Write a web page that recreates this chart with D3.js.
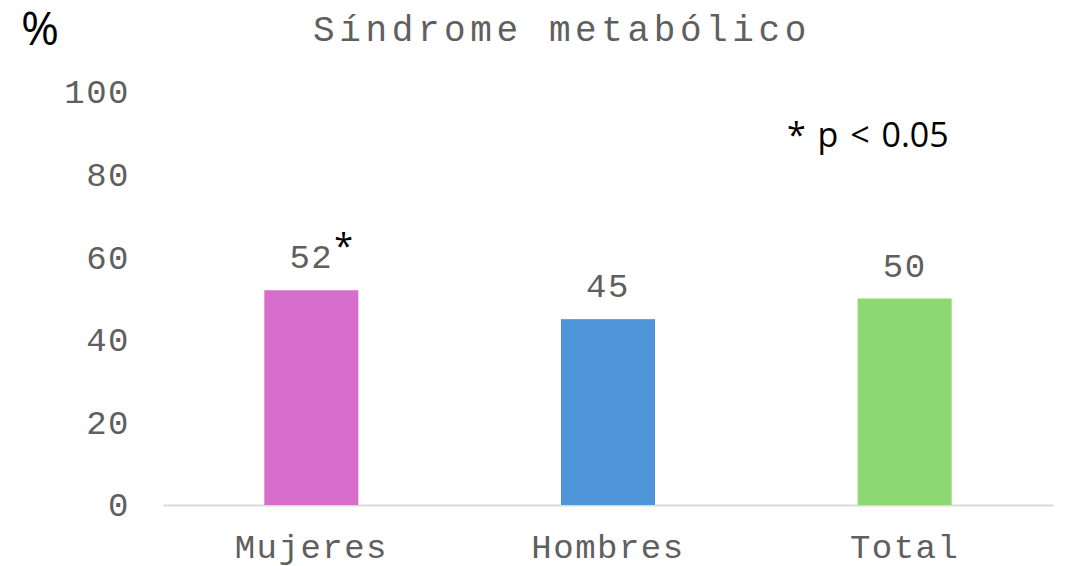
<!DOCTYPE html>
<html>
<head>
<meta charset="utf-8">
<script src="https://cdn.jsdelivr.net/npm/d3@7"></script>
<style>
  body { margin: 0; background: #fff; }
</style>
</head>
<body>
<div id="chart"></div>
<script>
var categories = ["Mujeres", "Hombres", "Total"];
var values = [52, 45, 50];
var colors = ["#D86ECB", "#4F95D9", "#8ED873"];
var marks = ["*", "", ""];
var yTicks = [0, 20, 40, 60, 80, 100];

var width = 1069, height = 566;
var margin = { top: 92, right: 15, bottom: 61, left: 163 };

var svg = d3.select("#chart").append("svg")
  .attr("width", width)
  .attr("height", height);

var x = d3.scaleBand()
  .domain(categories)
  .range([margin.left, width - margin.right - 1])
  .paddingInner(0.683)
  .paddingOuter(0.3415);

var y = d3.scaleLinear()
  .domain([0, 100])
  .range([height - margin.bottom, margin.top]);

var mono = "'Liberation Mono', 'Courier New', monospace";
var sans = "'Open Sans', 'Noto Sans', sans-serif";
var grey = "#5f5f5f";

// y axis labels only
var yAxis = svg.append("g")
  .attr("transform", "translate(" + (margin.left - 33) + ",0)")
  .call(d3.axisLeft(y).tickValues(yTicks).tickSize(0).tickPadding(0));
yAxis.select(".domain").remove();
yAxis.selectAll("text")
  .attr("fill", grey)
  .style("font-family", mono)
  .style("font-size", "34px")
  .style("letter-spacing", "1.5px");

// x axis
var xAxis = svg.append("g")
  .attr("transform", "translate(0," + y(0) + ")")
  .call(d3.axisBottom(x).tickSize(0).tickPadding(29));
xAxis.select(".domain").attr("stroke", "#D9D9D9").attr("stroke-width", 2);
xAxis.selectAll("text")
  .attr("fill", grey)
  .style("font-family", mono)
  .style("font-size", "34px")
  .style("letter-spacing", "1.5px");

// bars
svg.selectAll("rect.bar")
  .data(values)
  .enter().append("rect")
  .attr("class", "bar")
  .attr("x", function (d, i) { return x(categories[i]); })
  .attr("y", function (d) { return y(d); })
  .attr("width", x.bandwidth())
  .attr("height", function (d) { return y(0) - y(d); })
  .attr("fill", function (d, i) { return colors[i]; });

// value labels
svg.selectAll("text.val")
  .data(values)
  .enter().append("text")
  .attr("class", "val")
  .attr("x", function (d, i) { return x(categories[i]) + x.bandwidth() / 2; })
  .attr("y", function (d) { return y(d) - 22; })
  .attr("text-anchor", "middle")
  .attr("fill", grey)
  .style("font-family", mono)
  .style("font-size", "34px")
  .style("letter-spacing", "1.5px")
  .text(function (d) { return d; });

// significance marks
svg.selectAll("text.mark")
  .data(values)
  .enter().append("text")
  .attr("class", "mark")
  .attr("x", function (d, i) { return x(categories[i]) + x.bandwidth() / 2 + 23; })
  .attr("y", function (d) { return y(d) - 32; })
  .attr("fill", "#000")
  .style("font-family", sans)
  .style("font-size", "34px")
  .text(function (d, i) { return marks[i]; });

// title
svg.append("text")
  .attr("x", 562)
  .attr("y", 41)
  .attr("text-anchor", "middle")
  .attr("fill", grey)
  .style("font-family", mono)
  .style("font-size", "36px")
  .style("letter-spacing", "4.6px")
  .text("Síndrome metabólico");

// unit
svg.append("text")
  .attr("x", 21)
  .attr("y", 45)
  .attr("fill", "#000")
  .style("font-family", sans)
  .style("font-size", "46px")
  .text("%");

// note
svg.append("text")
  .attr("x", 787)
  .attr("y", 147)
  .attr("fill", "#000")
  .style("font-family", sans)
  .style("font-size", "34px")
  .style("word-spacing", "3px")
  .text("* p < 0.05");
</script>
</body>
</html>
